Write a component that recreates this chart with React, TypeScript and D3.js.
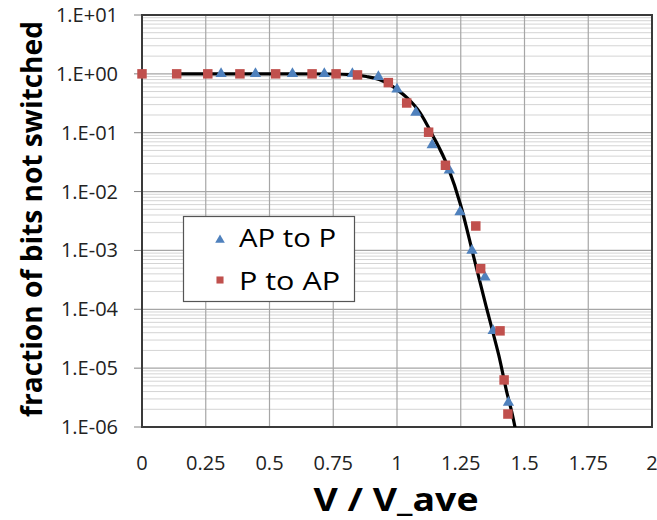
import * as d3 from "d3";
import { useRef, useEffect } from "react";

// AP to P (triangles)
const apX = [0.31, 0.445, 0.59, 0.715, 0.825, 0.927, 1.0, 1.074, 1.138, 1.205, 1.247, 1.294, 1.345, 1.377, 1.437];
const apY = [1, 1, 1, 1, 1, 0.89, 0.55, 0.22, 0.062, 0.023, 0.0045, 0.001, 3.5e-4, 4.3e-5, 2.6e-6];

// P to AP (squares)
const pX = [0, 0.136, 0.258, 0.384, 0.524, 0.667, 0.761, 0.845, 0.966, 1.038, 1.124, 1.19, 1.309, 1.328, 1.404, 1.42, 1.435];
const pY = [1, 1, 1, 1, 1, 1, 1, 0.96, 0.71, 0.32, 0.102, 0.028, 0.0026, 4.9e-4, 4.3e-5, 6.3e-6, 1.66e-6];

// fitted curve
const fitX = [0.14, 0.6, 0.75, 0.82, 0.88, 0.93, 0.97, 1.0, 1.04, 1.09, 1.14, 1.2, 1.25, 1.3, 1.35, 1.38, 1.4, 1.43, 1.45, 1.47];
const fitY = [1, 1, 0.995, 0.97, 0.9, 0.8, 0.66, 0.54, 0.39, 0.22, 0.09, 0.026, 0.0058, 8e-4, 1.1e-4, 3.5e-5, 1.6e-5, 4e-6, 1.8e-6, 7e-7];

const xTicks = [0, 0.25, 0.5, 0.75, 1, 1.25, 1.5, 1.75, 2];
const xTickLabels = ["0", "0.25", "0.5", "0.75", "1", "1.25", "1.5", "1.75", "2"];
const yTicks = [1e1, 1e0, 1e-1, 1e-2, 1e-3, 1e-4, 1e-5, 1e-6];
const yTickLabels = ["1.E+01", "1.E+00", "1.E-01", "1.E-02", "1.E-03", "1.E-04", "1.E-05", "1.E-06"];

const seriesNames = ["AP to P", "P to AP"];

export default function App() {
  const ref = useRef(null);

  useEffect(() => {
    const width = 657;
    const height = 520;
    const left = 142, right = 652, top = 15, bottom = 427;
    const blue = "#4F81BD";
    const red = "#C0504D";
    const font = "'Open Sans', sans-serif";

    const svg = d3.select(ref.current);
    svg.selectAll("*").remove();
    svg.attr("width", width).attr("height", height);

    svg.append("rect").attr("width", width).attr("height", height).attr("fill", "#fff");

    const x = d3.scaleLinear().domain([0, 2]).range([left, right]);
    const y = d3.scaleLog().domain([1e-6, 1e1]).range([bottom, top]);

    svg.append("clipPath").attr("id", "plotclip")
      .append("rect").attr("x", left).attr("y", top).attr("width", right - left).attr("height", bottom - top);

    // minor horizontal grid
    const minor = [];
    for (let e = -6; e < 1; e++) {
      for (let m = 2; m <= 9; m++) minor.push(m * Math.pow(10, e));
    }
    svg.append("g").selectAll("line").data(minor).enter().append("line")
      .attr("x1", left).attr("x2", right)
      .attr("y1", d => y(d)).attr("y2", d => y(d))
      .attr("stroke", "#d4d4d4").attr("stroke-width", 1);

    svg.append("g").selectAll("line").data(yTicks).enter().append("line")
      .attr("x1", left).attr("x2", right)
      .attr("y1", d => y(d)).attr("y2", d => y(d))
      .attr("stroke", "#a6a6a6").attr("stroke-width", 1.2);

    svg.append("g").selectAll("line").data(xTicks).enter().append("line")
      .attr("x1", d => x(d)).attr("x2", d => x(d))
      .attr("y1", top).attr("y2", bottom)
      .attr("stroke", "#a6a6a6").attr("stroke-width", 1.2);

    // y tick marks
    svg.append("g").selectAll("line").data(yTicks).enter().append("line")
      .attr("x1", left - 8).attr("x2", left)
      .attr("y1", d => y(d)).attr("y2", d => y(d))
      .attr("stroke", "#808080").attr("stroke-width", 1);

    // plot border
    svg.append("rect")
      .attr("x", left).attr("y", top).attr("width", right - left).attr("height", bottom - top)
      .attr("fill", "none").attr("stroke", "#3a3a3a").attr("stroke-width", 2);

    // tick labels
    svg.append("g").selectAll("text").data(yTicks).enter().append("text")
      .attr("x", 118).attr("y", d => y(d)).attr("dy", "0.35em")
      .attr("text-anchor", "end")
      .style("font-family", font).style("font-size", "20px").style("fill", "#222")
      .text((d, i) => yTickLabels[i]);

    svg.append("g").selectAll("text").data(xTicks).enter().append("text")
      .attr("x", d => x(d)).attr("y", 470)
      .attr("text-anchor", "middle")
      .style("font-family", font).style("font-size", "20px").style("fill", "#222")
      .text((d, i) => xTickLabels[i]);

    // axis titles
    svg.append("text")
      .attr("transform", `translate(42, 219) rotate(-90)`)
      .attr("text-anchor", "middle")
      .attr("textLength", 396).attr("lengthAdjust", "spacingAndGlyphs")
      .style("font-family", font).style("font-size", "28px").style("font-weight", "bold")
      .text("fraction of bits not switched");

    svg.append("text")
      .attr("x", 396).attr("y", 511)
      .attr("text-anchor", "middle")
      .attr("textLength", 165).attr("lengthAdjust", "spacingAndGlyphs")
      .style("font-family", font).style("font-size", "32px").style("font-weight", "bold")
      .text("V / V_ave");

    const plot = svg.append("g").attr("clip-path", "url(#plotclip)");

    const line = d3.line()
      .x(d => x(d[0]))
      .y(d => y(d[1]))
      .curve(d3.curveMonotoneX);

    plot.append("path")
      .datum(fitX.map((v, i) => [v, fitY[i]]))
      .attr("d", line)
      .attr("fill", "none")
      .attr("stroke", "#000")
      .attr("stroke-width", 3.2);

    const tri = d3.symbol().type(d3.symbolTriangle).size(55);
    const sq = d3.symbol().type(d3.symbolSquare).size(90);

    svg.append("g").selectAll("path").data(apX.map((v, i) => [v, apY[i]])).enter().append("path")
      .attr("d", tri)
      .attr("transform", d => `translate(${x(d[0])},${y(d[1])})`)
      .attr("fill", blue);

    svg.append("g").selectAll("path").data(pX.map((v, i) => [v, pY[i]])).enter().append("path")
      .attr("d", sq)
      .attr("transform", d => `translate(${x(d[0])},${y(d[1])})`)
      .attr("fill", red);

    // legend
    const lg = svg.append("g");
    lg.append("rect")
      .attr("x", 183.5).attr("y", 216.5).attr("width", 171).attr("height", 85)
      .attr("fill", "#fff").attr("stroke", "#555").attr("stroke-width", 1.2);
    lg.append("path").attr("d", d3.symbol().type(d3.symbolTriangle).size(40))
      .attr("transform", "translate(220,240)").attr("fill", blue);
    lg.append("path").attr("d", d3.symbol().type(d3.symbolSquare).size(50))
      .attr("transform", "translate(220,280)").attr("fill", red);
    lg.selectAll("text").data(seriesNames).enter().append("text")
      .attr("x", 239).attr("y", (d, i) => 247 + i * 43)
      .attr("textLength", (d, i) => (i === 0 ? 97 : 101)).attr("lengthAdjust", "spacingAndGlyphs")
      .style("font-family", font).style("font-size", "25px").style("fill", "#000")
      .text(d => d);
  }, []);

  return (
    <div style={{ position: "absolute", left: 0, top: 0 }}>
      <svg ref={ref}></svg>
    </div>
  );
}
